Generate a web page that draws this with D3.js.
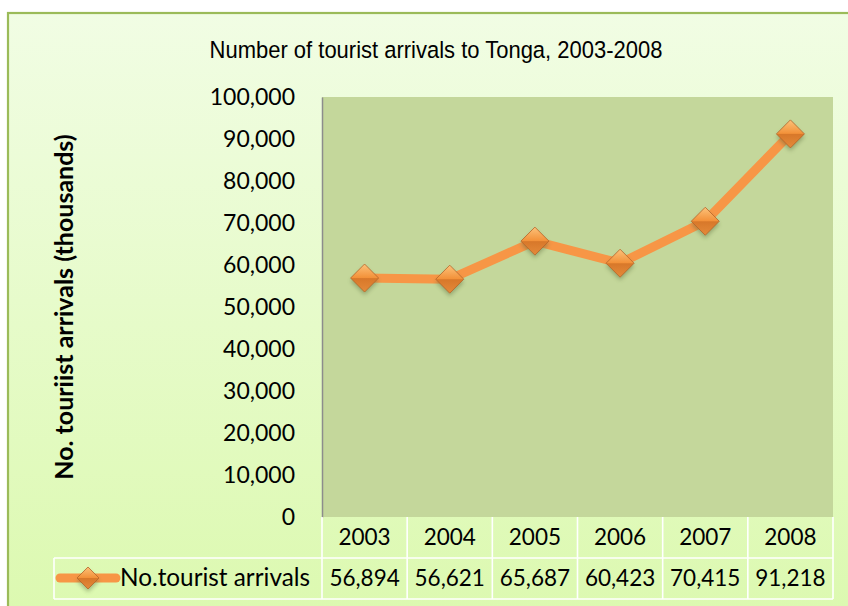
<!DOCTYPE html>
<html><head><meta charset="utf-8">
<script src="https://cdn.jsdelivr.net/npm/d3@7"></script>
<style>body{margin:0;overflow:hidden;background:#fff}</style>
</head><body>
<svg id="c" width="848" height="606"></svg>
<script>
const years = ["2003","2004","2005","2006","2007","2008"];
const arrivals = [56894, 56621, 65687, 60423, 70415, 91218];
const yTicks = [0,10000,20000,30000,40000,50000,60000,70000,80000,90000,100000];
const seriesName = "No.tourist arrivals";
const chartTitle = "Number of tourist arrivals to Tonga, 2003-2008";
const yTitle = "No. touriist arrivals (thousands)";

const svg = d3.select("#c");
const defs = svg.append("defs");
const bg = defs.append("linearGradient").attr("id","bg").attr("x1",0).attr("y1",0).attr("x2",0).attr("y2",1);
bg.append("stop").attr("offset","0%").attr("stop-color","#f1fde4");
bg.append("stop").attr("offset","100%").attr("stop-color","#dcf9b0");
const mk = defs.append("linearGradient").attr("id","mk").attr("x1",0).attr("y1",0).attr("x2",0).attr("y2",1);
mk.append("stop").attr("offset","0%").attr("stop-color","#fcc27a");
mk.append("stop").attr("offset","48%").attr("stop-color","#f3923a");
mk.append("stop").attr("offset","52%").attr("stop-color","#d8782a");
mk.append("stop").attr("offset","100%").attr("stop-color","#e48a3a");
const sh = defs.append("filter").attr("id","sh").attr("x","-50%").attr("y","-50%").attr("width","200%").attr("height","200%");
sh.append("feGaussianBlur").attr("stdDeviation",2.2);

// chart area background + border
svg.append("rect").attr("x",8).attr("y",13).attr("width",850).attr("height",600)
  .attr("fill","url(#bg)").attr("stroke","#9bbb59").attr("stroke-width",2.2);

const plotL = 322, plotR = 833, plotT = 97, plotB = 517;
const x = d3.scaleBand().domain(years).range([plotL, plotR]).padding(0);
const y = d3.scaleLinear().domain([0,100000]).range([plotB, plotT]);

svg.append("rect").attr("x",plotL).attr("y",plotT).attr("width",plotR-plotL).attr("height",plotB-plotT)
  .attr("fill","#c4d79b");

const tf = "Lato, 'Open Sans', sans-serif";

// y axis
const yAxis = d3.axisLeft(y).tickValues(yTicks).tickSize(0).tickPadding(27).tickFormat(d3.format(","));
const ga = svg.append("g").attr("transform",`translate(${plotL},0)`).call(yAxis);
ga.select(".domain").attr("stroke","#8c8c8c").attr("stroke-width",1.5);
ga.selectAll("text").attr("font-family",tf).attr("font-size",23).attr("fill","#000").attr("dy","0.34em");

// title
svg.append("text").attr("x",436).attr("y",58).attr("text-anchor","middle")
  .attr("font-family","'Liberation Sans', Arial, sans-serif").attr("font-size",22)
  .attr("transform","translate(0,58) scale(1,1.08) translate(0,-58)")
  .attr("fill","#000").text(chartTitle);

// y title
svg.append("text").attr("transform","translate(73,307) rotate(-90)").attr("text-anchor","middle")
  .attr("font-family",tf).attr("font-weight","bold").attr("font-size",25)
  .attr("fill","#000").text(yTitle);

// data table
const rowTop1 = plotB, rowTop2 = 558, rowBot = 599, legL = 54;
const tbl = svg.append("g").attr("stroke","#ffffff").attr("stroke-width",1.6).attr("fill","none");
years.forEach((yr,i)=>{
  const x0 = x(yr);
  tbl.append("line").attr("x1",x0).attr("x2",x0).attr("y1",rowTop1).attr("y2",rowBot);
});
tbl.append("line").attr("x1",plotR).attr("x2",plotR).attr("y1",rowTop1).attr("y2",rowBot);
tbl.append("line").attr("x1",legL).attr("x2",legL).attr("y1",rowTop2).attr("y2",rowBot);
tbl.append("line").attr("x1",legL).attr("x2",plotR).attr("y1",rowTop2).attr("y2",rowTop2);
tbl.append("line").attr("x1",legL).attr("x2",plotR).attr("y1",rowBot).attr("y2",rowBot);

svg.append("g").selectAll("text").data(years).join("text")
  .attr("x",d=>x(d)+x.bandwidth()/2).attr("y",545).attr("text-anchor","middle")
  .attr("font-family",tf).attr("font-size",22.5).attr("fill","#000").text(d=>d);
svg.append("g").selectAll("text").data(arrivals).join("text")
  .attr("x",(d,i)=>x(years[i])+x.bandwidth()/2).attr("y",586).attr("text-anchor","middle")
  .attr("font-family",tf).attr("font-size",22.5).attr("fill","#000").text(d=>d3.format(",")(d));

// legend in table
const legY = 578;
svg.append("line").attr("x1",60).attr("x2",116).attr("y1",legY).attr("y2",legY)
  .attr("stroke","#f79646").attr("stroke-width",9).attr("stroke-linecap","round");
function diamond(g, cx, cy, r){
  g.append("path").attr("d",`M${cx},${cy-r+3}L${cx+r},${cy+3}L${cx},${cy+r+3}L${cx-r},${cy+3}Z`)
    .attr("fill","#5a6b3a").attr("opacity",0.45).attr("filter","url(#sh)");
  g.append("path").attr("d",`M${cx},${cy-r}L${cx+r},${cy}L${cx},${cy+r}L${cx-r},${cy}Z`)
    .attr("fill","url(#mk)").attr("stroke","#b5642a").attr("stroke-width",0.8);
}
diamond(svg.append("g"), 88, legY, 11);
svg.append("text").attr("x",120).attr("y",586).attr("font-family",tf).attr("font-size",24.3)
  .attr("fill","#000").text(seriesName);

// line
const line = d3.line().x((d,i)=>x(years[i])+x.bandwidth()/2).y(d=>y(d));
svg.append("path").datum(arrivals).attr("d",line).attr("fill","none")
  .attr("stroke","#f79646").attr("stroke-width",9).attr("stroke-linejoin","round").attr("stroke-linecap","round");
const mg = svg.append("g");
arrivals.forEach((v,i)=>diamond(mg, x(years[i])+x.bandwidth()/2, y(v), 14));
</script>
</body></html>
